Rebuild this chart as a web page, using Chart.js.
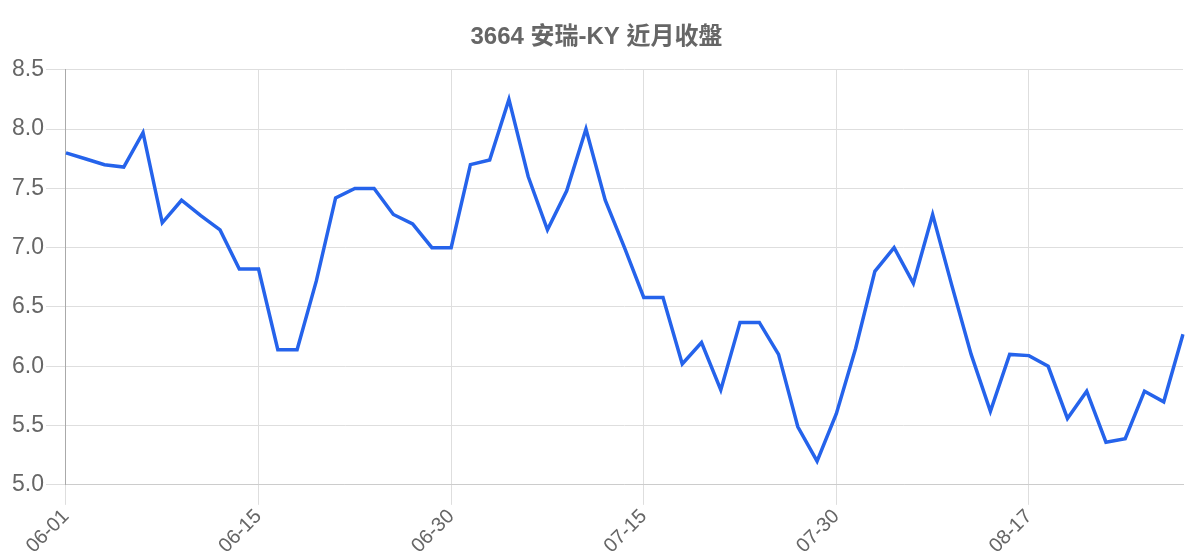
<!DOCTYPE html>
<html>
<head>
<meta charset="utf-8">
<script src="https://cdn.jsdelivr.net/npm/chart.js@4/dist/chart.umd.min.js"></script>
<style>
  html, body { margin: 0; padding: 0; background: #fff; }
  #wrap { width: 1200px; height: 560px; }
</style>
</head>
<body>
<div id="wrap"><canvas id="myChart"></canvas></div>
<script>
// Trading days shown on the x axis (every 10th one is labelled).
const dates = [
    '06-01', '06-02', '06-05', '06-06', '06-07', '06-08', '06-09', '06-12', '06-13', '06-14',
    '06-15', '06-16', '06-19', '06-20', '06-21', '06-22', '06-26', '06-27', '06-28', '06-29',
    '06-30', '07-03', '07-04', '07-05', '07-06', '07-07', '07-10', '07-11', '07-12', '07-13',
    '07-15', '07-17', '07-18', '07-19', '07-20', '07-21', '07-24', '07-25', '07-26', '07-27',
    '07-30', '07-31', '08-01', '08-02', '08-03', '08-07', '08-08', '08-09', '08-14', '08-16',
    '08-17', '08-18', '08-21', '08-22', '08-23', '08-24', '08-25', '08-28', '08-29'
];

// Closing prices.
const closes = [
    7.80, 7.75, 7.70, 7.68, 7.97, 7.21, 7.40, 7.27, 7.15, 6.82,
    6.82, 6.14, 6.14, 6.72, 7.42, 7.50, 7.50, 7.28, 7.20, 7.00,
    7.00, 7.70, 7.74, 8.25, 7.60, 7.15, 7.48, 8.00, 7.40, 7.00,
    6.58, 6.58, 6.02, 6.20, 5.80, 6.37, 6.37, 6.10, 5.49, 5.20,
    5.60, 6.15, 6.80, 7.00, 6.70, 7.28, 6.68, 6.10, 5.62, 6.10,
    6.09, 6.00, 5.56, 5.79, 5.36, 5.39, 5.79, 5.70, 6.27
];

const chartTitle = '3664 安瑞-KY 近月收盤';
const labelEvery = 10;

const fontFamily = '"Liberation Sans", Arial, "Noto Sans CJK TC", sans-serif';

document.addEventListener('DOMContentLoaded', () => {
    const ctx = document.getElementById('myChart').getContext('2d');

    new Chart(ctx, {
        type: 'line',
        data: {
            labels: dates,
            datasets: [{
                label: '收盤',
                data: closes,
                borderColor: '#2563eb',
                borderWidth: 3.5,
                pointRadius: 0,
                tension: 0,
                fill: false
            }]
        },
        options: {
            responsive: true,
            maintainAspectRatio: false,
            animation: false,
            layout: {
                padding: { left: 10, right: 17, top: 0, bottom: 2 }
            },
            plugins: {
                legend: { display: false },
                tooltip: { enabled: false },
                title: {
                    display: true,
                    text: chartTitle,
                    color: '#666',
                    font: { family: fontFamily, size: 24, weight: 'bold' },
                    padding: { top: 23, bottom: 18 }
                }
            },
            scales: {
                x: {
                    grid: { color: '#dedede', tickLength: 20 },
                    border: { color: '#cccccc' },
                    ticks: {
                        autoSkip: false,
                        maxRotation: 45,
                        minRotation: 45,
                        padding: 0,
                        color: '#666',
                        font: { family: fontFamily, size: 20 },
                        callback: function (value, index) {
                            return index % labelEvery === 0 ? this.getLabelForValue(value) : null;
                        }
                    }
                },
                y: {
                    min: 5,
                    max: 8.5,
                    grid: { color: '#dedede', tickLength: 20 },
                    border: { color: '#aaaaaa' },
                    ticks: {
                        stepSize: 0.5,
                        padding: 2,
                        color: '#666',
                        font: { family: fontFamily, size: 23 },
                        callback: (v) => v.toFixed(1)
                    }
                }
            }
        }
    });
});
</script>
</body>
</html>
